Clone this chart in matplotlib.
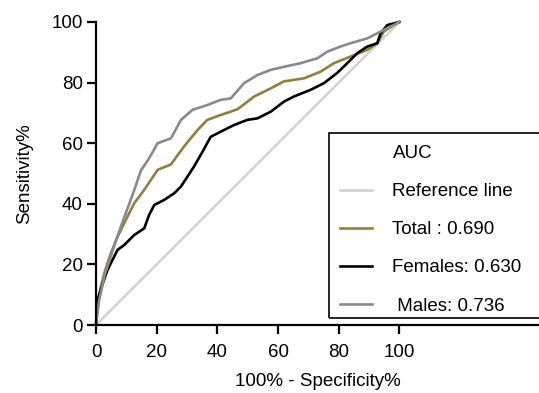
import matplotlib.pyplot as plt
from matplotlib.lines import Line2D
from matplotlib.patches import Rectangle

plt.rcParams['font.family'] = ['Liberation Sans', 'DejaVu Sans']

# ROC curves (x = 100% - specificity, y = sensitivity)
males_x = [0, 1, 3, 5, 6.6, 9.3, 12.6, 14.8, 17.5, 20.3, 24.7, 28, 31.8, 36.7, 41.1,
           44.4, 48.8, 53.2, 57.6, 61.9, 67.4, 72.9, 76.2, 80.6, 83.9, 89.4, 92.7, 98.1, 100]
males_y = [0, 8, 17, 23, 28, 35.5, 44.5, 51, 55, 60, 61.6, 67.7, 71, 72.6, 74.3,
           74.8, 79.8, 82.5, 84.2, 85.2, 86.4, 88, 90.2, 91.9, 93, 94.6, 96.3, 99, 100]

total_x = [0, 0.5, 1.6, 3, 4.9, 7.1, 9.3, 12.6, 15.9, 20.3, 24.7, 29, 33.5, 36.7, 41.1,
           46.6, 47.7, 52.1, 57.6, 61.9, 68.5, 74, 78.4, 83.9, 89.4, 92.7, 94.8, 98.1, 100]
total_y = [0, 6, 12.6, 18, 23.7, 29.1, 33.6, 40.2, 44.6, 51.2, 53, 58.9, 64.4, 67.7, 69.3,
           71.2, 72, 75.4, 78.1, 80.4, 81.4, 83.6, 86.4, 88.6, 90.8, 93, 96.8, 99, 100]

females_x = [0, 0.5, 2, 3.8, 7.1, 9.3, 12.6, 15.9, 17.5, 19.2, 22.5, 25.8, 28, 32.3, 35,
             37.8, 41.1, 45.5, 49.9, 53.2, 57.6, 61.9, 65.2, 70.7, 75.1, 79.5, 82.8, 86.1,
             89.4, 92.7, 93.8, 96, 100]
females_y = [0, 8.3, 13, 18.2, 24.8, 26.4, 29.7, 31.9, 36.3, 39.6, 41.3, 43.5, 45.7, 52.3, 57,
             62.1, 63.8, 66, 67.7, 68.2, 70.4, 73.7, 75.4, 77.6, 79.8, 83.2, 86.4, 89.7,
             91.9, 93, 96.3, 99, 100]

ref_x = [0, 100]
ref_y = [0, 100]

labels = ['AUC', 'Reference line', 'Total : 0.690', 'Females: 0.630', ' Males: 0.736']
ticks = [0, 20, 40, 60, 80, 100]

ref_color = '#d3d3d3'
total_color = '#8f8040'
females_color = '#000000'
males_color = '#8a8a8a'
lw = 1.9

fig = plt.figure(figsize=(5.39, 3.93), dpi=100)
ax = fig.add_axes([96 / 539, 1 - 325 / 393, 1 - 96 / 539, (325 - 22) / 393])

ax.plot(ref_x, ref_y, color=ref_color, lw=lw, clip_on=False)
ax.plot(total_x, total_y, color=total_color, lw=lw, clip_on=False)
ax.plot(females_x, females_y, color=females_color, lw=lw, clip_on=False)
ax.plot(males_x, males_y, color=males_color, lw=lw, clip_on=False)

ax.set_xlim(0, 146)
ax.set_ylim(0, 100)
ax.set_xticks(ticks)
ax.set_yticks(ticks)
for side in ['top', 'right']:
    ax.spines[side].set_visible(False)
for side in ['left', 'bottom']:
    ax.spines[side].set_linewidth(1.6)
ax.spines['left'].set_bounds(0, 100)
ax.tick_params(direction='out', length=6.5, width=1.6, labelsize=13.5)
ax.tick_params(axis='x', pad=7)
ax.tick_params(axis='y', pad=3)
ax.set_xlabel('100% - Specificity%', fontsize=13.5, labelpad=9)
ax.set_ylabel('Sensitivity%', fontsize=13.5, labelpad=13)

handles = [Line2D([], [], color='none'),
           Line2D([], [], color=ref_color, lw=lw),
           Line2D([], [], color=total_color, lw=lw),
           Line2D([], [], color=females_color, lw=lw),
           Line2D([], [], color=males_color, lw=lw)]
fig.legend(handles, labels, loc='upper left',
           bbox_to_anchor=(340 / 539, 1 - 145 / 393), bbox_transform=fig.transFigure,
           frameon=False, fontsize=13.5, borderpad=0, borderaxespad=0,
           handlelength=1.7, handletextpad=1.1, labelspacing=1.12)

fig.patches.append(Rectangle((329 / 539, 75 / 393), (560 - 329) / 539, 185 / 393,
                             transform=fig.transFigure, fill=False,
                             edgecolor='black', lw=1.2))

fig.savefig('out.png', dpi=100)
